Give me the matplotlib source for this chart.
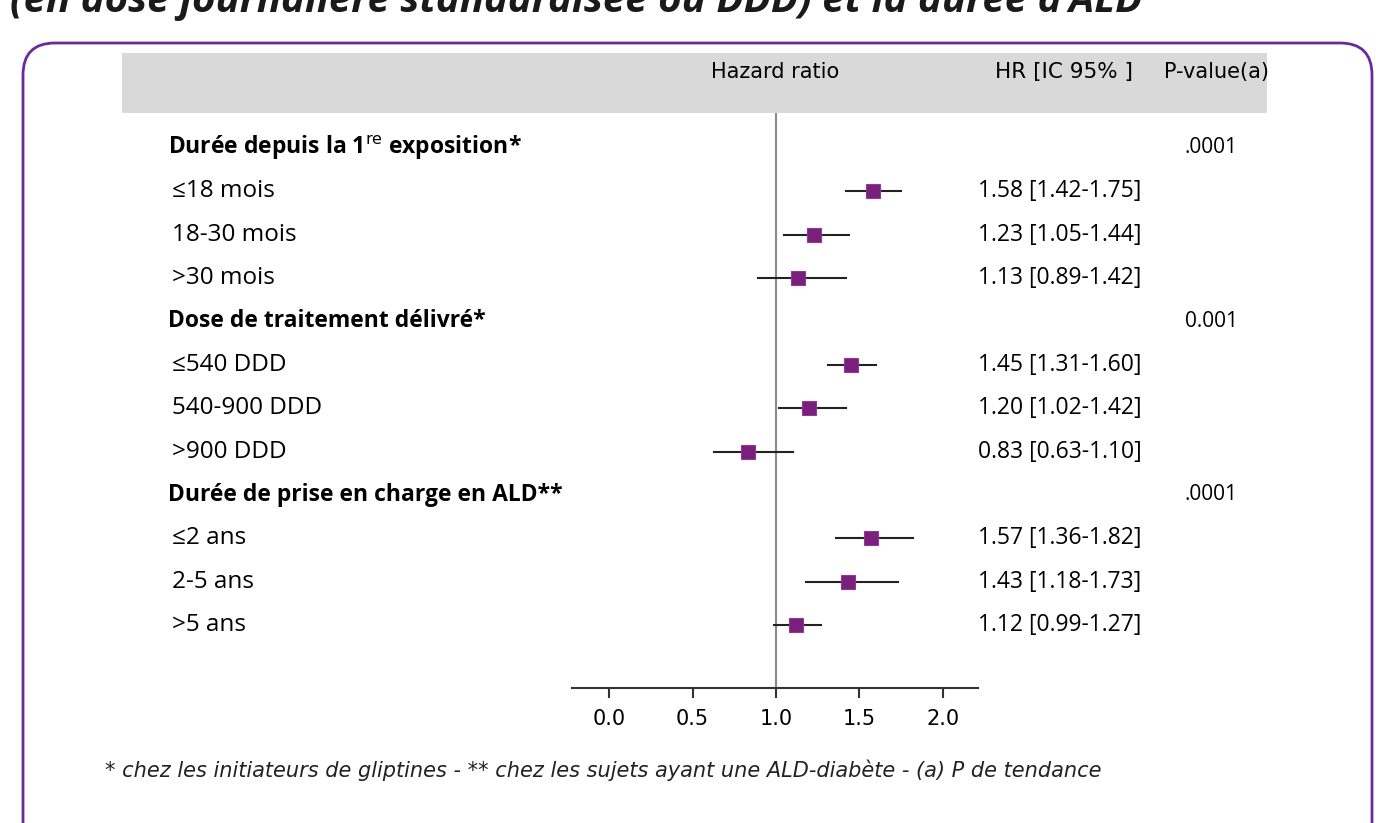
import matplotlib.pyplot as plt
import matplotlib.transforms as mtransforms
from matplotlib.patches import FancyBboxPatch, Rectangle

# data
labels = ["Durée depuis la 1$^{\\mathrm{re}}$ exposition*", "≤18 mois", "18-30 mois", ">30 mois",
          "Dose de traitement délivré*", "≤540 DDD", "540-900 DDD", ">900 DDD",
          "Durée de prise en charge en ALD**", "≤2 ans", "2-5 ans", ">5 ans"]
is_header = [True, False, False, False, True, False, False, False, True, False, False, False]
hr = [None, 1.58, 1.23, 1.13, None, 1.45, 1.20, 0.83, None, 1.57, 1.43, 1.12]
lo = [None, 1.42, 1.05, 0.89, None, 1.31, 1.02, 0.63, None, 1.36, 1.18, 0.99]
hi = [None, 1.75, 1.44, 1.42, None, 1.60, 1.42, 1.10, None, 1.82, 1.73, 1.27]
pvals = [".0001", "", "", "", "0.001", "", "", "", ".0001", "", "", ""]
xticks = [0.0, 0.5, 1.0, 1.5, 2.0]

purple = "#7a1f7c"
frame = "#6a2a9c"

fig = plt.figure(figsize=(13.76, 8.23), dpi=100)
bg = fig.add_axes([0, 0, 1, 1])
bg.set_xlim(0, 1376)
bg.set_ylim(823, 0)
bg.axis("off")

# title cut at the top as in the original page, frame, header band
bg.text(10, 12, "(en dose journalière standardisée ou DDD) et la durée d'ALD", fontsize=29,
        fontweight="bold", fontstyle="italic", color="#1a1a1a", va="baseline", family="Open Sans")
bg.add_patch(FancyBboxPatch((23, 43), 1349, 900, boxstyle="round,pad=0,rounding_size=32",
                            fc="none", ec=frame, lw=2))
bg.add_patch(Rectangle((122, 53), 1145, 60, fc="#d9d9d9", ec="none"))
bg.text(775, 72, "Hazard ratio", fontsize=15, ha="center", va="center")
bg.text(1064, 72, "HR [IC 95% ]", fontsize=15.5, ha="center", va="center")
bg.text(1217, 72, "P-value(a)", fontsize=15, ha="center", va="center")
bg.text(105, 770, "* chez les initiateurs de gliptines - ** chez les sujets ayant une ALD-diabète - (a) P de tendance",
        fontsize=15, fontstyle="italic", va="center", color="#222222")

ax = fig.add_axes([572 / 1376, (823 - 688) / 823, 406 / 1376, 575 / 823])
ax.set_xlim(-0.2216, 2.2096)
ax.set_ylim(12.454, -0.807)
ax.patch.set_alpha(0)
for s in ["top", "left", "right"]:
    ax.spines[s].set_visible(False)
ax.spines["bottom"].set_color("#333333")
ax.spines["bottom"].set_linewidth(1.5)
ax.set_yticks([])
ax.set_xticks(xticks)
ax.set_xticklabels([f"{t:.1f}" for t in xticks], fontsize=15)
ax.tick_params(axis="x", direction="out", length=7, width=1.5, color="#333333", pad=8)
ax.axvline(1.0, color="#8a8a8a", lw=1.5, zorder=1)

rows = list(range(len(labels)))
for i in rows:
    if hr[i] is None:
        continue
    ax.plot([lo[i], hi[i]], [i, i], color="#222222", lw=1.5, zorder=2)
    ax.plot(hr[i], i, marker="s", ms=10, color=purple, mec="#8e3a8f", mew=0.8, zorder=3)

tr = mtransforms.blended_transform_factory(bg.transData, ax.transData)
for i in rows:
    if is_header[i]:
        ax.text(168, i, labels[i], transform=tr, fontsize=16.5, fontweight="bold", va="center",
                family="Open Sans", clip_on=False)
    else:
        ax.text(172, i, labels[i], transform=tr, fontsize=17.5, va="center", family="Open Sans",
                clip_on=False)
        ax.text(978, i, f"{hr[i]:.2f} [{lo[i]:.2f}-{hi[i]:.2f}]", transform=tr, fontsize=16.5,
                va="center", family="Open Sans", clip_on=False)
    if pvals[i]:
        ax.text(1238, i, pvals[i], transform=tr, fontsize=15, va="center", ha="right",
                family="Open Sans", clip_on=False)

fig.savefig("out.png", dpi=100)
